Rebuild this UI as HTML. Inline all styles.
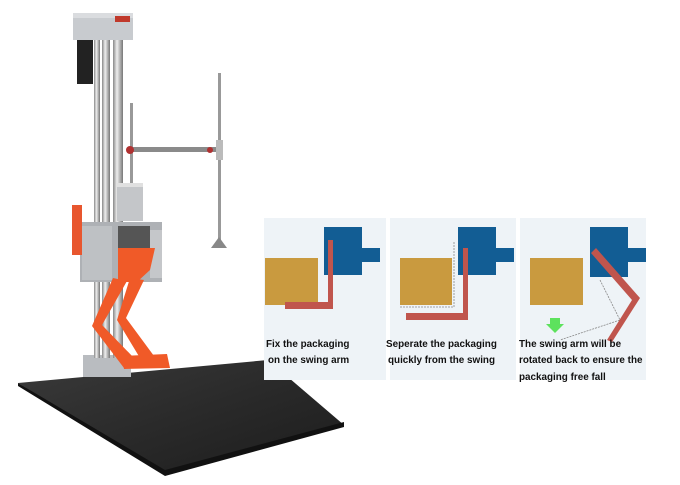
<!DOCTYPE html>
<html><head><style>
html,body{margin:0;padding:0;background:#fff;width:680px;height:485px;overflow:hidden}
svg{display:block}
text{font-family:"Liberation Sans",Arial,sans-serif;font-weight:bold;font-size:9.9px;fill:#111}
</style></head><body>
<svg width="680" height="485" viewBox="0 0 680 485">
<defs>
<linearGradient id="col" x1="0" x2="1"><stop offset="0" stop-color="#888"/><stop offset=".4" stop-color="#eee"/><stop offset="1" stop-color="#777"/></linearGradient>
<linearGradient id="plate" x1="0" y1="0" x2="1" y2="1"><stop offset="0" stop-color="#3a3a3a"/><stop offset=".5" stop-color="#2a2a2a"/><stop offset="1" stop-color="#1c1c1c"/></linearGradient>
</defs>
<!-- plate -->
<polygon points="18,383 268,360 344,425 165,474" fill="url(#plate)"/>
<polygon points="18,383 165,470 344,422 344,427 165,476 18,386" fill="#111"/>
<!-- base block -->
<rect x="83" y="355" width="48" height="22" fill="#b9bcc0"/>
<!-- columns -->
<rect x="94" y="38" width="6" height="320" fill="url(#col)"/>
<rect x="102" y="38" width="8" height="320" fill="url(#col)"/>
<rect x="113" y="38" width="10" height="320" fill="url(#col)"/>
<!-- top box -->
<rect x="73" y="13" width="60" height="27" fill="#c8cbcf"/>
<rect x="73" y="13" width="60" height="5" fill="#dadcdf"/>
<rect x="115" y="16" width="15" height="6" fill="#c0392b"/>
<!-- motor -->
<rect x="77" y="40" width="16" height="44" fill="#222"/>
<!-- rod and arm -->
<rect x="130" y="103" width="3" height="115" fill="#999"/>
<rect x="128" y="147" width="92" height="5" fill="#8a8a8a"/>
<circle cx="130" cy="150" r="4" fill="#b03030"/>
<circle cx="210" cy="150" r="3" fill="#b03030"/>
<rect x="218" y="73" width="3" height="168" fill="#999"/>
<rect x="216" y="140" width="7" height="20" fill="#bbb"/>
<polygon points="219,237 227,248 211,248" fill="#888"/>
<!-- cylinder -->
<rect x="117" y="183" width="26" height="38" fill="#c4c6c9"/>
<rect x="117" y="183" width="26" height="4" fill="#e0e0e0"/>
<!-- carriage -->
<rect x="80" y="222" width="82" height="60" fill="#aeb1b5"/>
<rect x="82" y="226" width="30" height="54" fill="#bec1c4"/>
<rect x="118" y="226" width="32" height="22" fill="#555"/>
<rect x="150" y="230" width="12" height="48" fill="#c5c7ca"/>
<!-- handle -->
<rect x="72" y="205" width="10" height="50" fill="#e8562e"/>
<!-- orange arm -->
<polygon points="118,248 155,248 150,270 137,282 118,282" fill="#f05a28"/>
<polygon points="113,278 127,281 102,325 134,358 124,368 92,326" fill="#f05a28"/>
<polygon points="130,278 144,280 126,318 154,356 140,358 117,320" fill="#f05a28"/>
<polygon points="122,356 167,354 170,368 124,369" fill="#f05a28"/>
<!-- panels -->
<rect x="264" y="218" width="122" height="162" fill="#eef3f7"/>
<rect x="390" y="218" width="126" height="162" fill="#eef3f7"/>
<rect x="520" y="218" width="126" height="162" fill="#eef3f7"/>
<!-- panel 1 -->
<path d="M324,227h38v21h18v14h-18v13h-38z" fill="#125d94"/>
<rect x="265" y="258" width="53" height="47" fill="#c99a3f"/>
<path d="M328,240h5v69h-48v-7h43z" fill="#c0554d"/>
<!-- panel 2 -->
<path d="M458,227h38v21h18v14h-18v13h-38z" fill="#125d94"/>
<rect x="400" y="258" width="52" height="47" fill="#c99a3f"/>
<path d="M400,307h54v-65" fill="none" stroke="#888" stroke-dasharray="2,1" stroke-width=".8"/>
<path d="M463,248h5v72h-62v-7h57z" fill="#c0554d"/>
<!-- panel 3 -->
<path d="M590,227h38v21h18v14h-18v15h-38z" fill="#125d94"/>
<rect x="530" y="258" width="53" height="47" fill="#c99a3f"/>
<path d="M600,280l20,40l-60,20" fill="none" stroke="#888" stroke-dasharray="2,1" stroke-width=".8"/>
<polygon points="591,253 596,248 640,298 612,342 607,340 632,300" fill="#c0554d"/>
<polygon points="550,318 560,318 560,324 564,324 555,333 546,324 550,324" fill="#5de25d"/>
<!-- texts -->
<text x="266" y="347">Fix the packaging</text>
<text x="268" y="363">on the swing arm</text>
<text x="386" y="347">Seperate the packaging</text>
<text x="388" y="363">quickly from the swing</text>
<text x="519" y="347">The swing arm will be</text>
<text x="519" y="363">rotated back to ensure the</text>
<text x="519" y="380">packaging free fall</text>
</svg>
</body></html>
